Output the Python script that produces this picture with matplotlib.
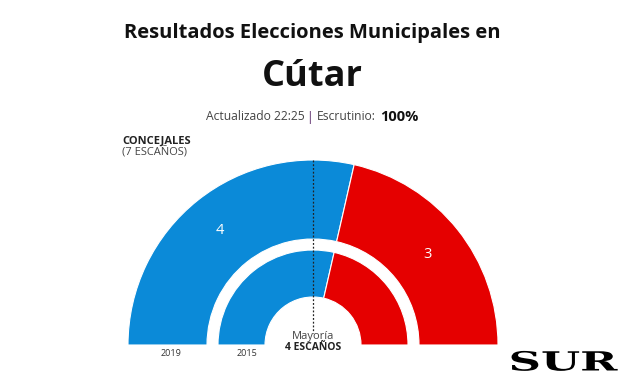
import matplotlib.pyplot as plt
from matplotlib.patches import Wedge
from matplotlib.patheffects import AbstractPathEffect
from matplotlib.transforms import Affine2D

# datos
parties = ['PP', 'PSOE']
colors = ['#0b8ad8', '#e50000']
seats_2019 = [4, 3]
seats_2015 = [4, 3]
years = ['2019', '2015']
total_seats = 7
majority = 4


class StretchX(AbstractPathEffect):
    # estira el texto en horizontal alrededor de un punto (en pixeles)
    def __init__(self, sx, x0):
        super().__init__()
        self.sx = sx
        self.x0 = x0

    def draw_path(self, renderer, gc, tpath, affine, rgbFace=None):
        t = Affine2D().translate(-self.x0, 0).scale(self.sx, 1).translate(self.x0, 0)
        renderer.draw_path(gc, tpath, affine + t, rgbFace)


W, H = 624, 385
fig = plt.figure(figsize=(W / 100, H / 100), dpi=100)
ax = fig.add_axes([0, 0, 1, 1])
ax.set_xlim(0, W)
ax.set_ylim(0, H)
ax.axis('off')

cx, cy = 313, H - 345
rings = [(seats_2019, 185, 106), (seats_2015, 95, 48)]

for seats, r_out, r_in in rings:
    start = 180.0
    for s, c in zip(seats, colors):
        span = 180.0 * s / total_seats
        ax.add_patch(Wedge((cx, cy), r_out, start - span, start, width=r_out - r_in,
                           facecolor=c, edgecolor='white', linewidth=0.8))
        start -= span

# numeros dentro del anillo exterior
ax.text(220, H - 231, str(seats_2019[0]), color='white', fontsize=10.5,
        ha='center', va='center', family='Open Sans')
ax.text(428, H - 254, str(seats_2019[1]), color='white', fontsize=10.5,
        ha='center', va='center', family='Open Sans')

# linea de mayoria
ax.plot([cx, cx], [H - 160, H - 333], color='#222222', lw=0.9, ls=(0, (1.5, 1.5)))

ax.text(cx, H - 336, 'Mayoría', fontsize=8, color='#444444', ha='center', va='center',
        family='Open Sans')
ax.text(cx, H - 348, f'{majority} ESCAÑOS', fontsize=7.5, color='#222222', ha='center',
        va='center', family='Open Sans', fontweight='bold')

ax.text(171, H - 354, years[0], fontsize=6.5, color='#333333', ha='center', va='center',
        family='Open Sans')
ax.text(247, H - 354, years[1], fontsize=6.5, color='#333333', ha='center', va='center',
        family='Open Sans')

# titulos
ax.text(312, H - 33, 'Resultados Elecciones Municipales en', fontsize=14.5,
        fontweight='bold', ha='center', va='center', family='Open Sans', color='#111111')
ax.text(312, H - 77, 'Cútar', fontsize=26, fontweight='bold', ha='center', va='center',
        family='Open Sans', color='#111111')
ax.text(305, H - 117, 'Actualizado 22:25', fontsize=8.7, ha='right', va='center',
        family='Open Sans', color='#444444')
ax.text(309.5, H - 117, '|', fontsize=8.7, ha='center', va='center',
        family='Open Sans', color='#5a2a6a')
ax.text(317, H - 117, 'Escrutinio:', fontsize=8.7, ha='left', va='center',
        family='Open Sans', color='#444444')
ax.text(380, H - 117, '100%', fontsize=10.5, fontweight='bold', ha='left', va='center',
        family='Open Sans', color='#111111')

ax.text(122, H - 141, 'CONCEJALES', fontsize=8, fontweight='bold', ha='left', va='center',
        family='Open Sans', color='#222222')
ax.text(122, H - 153, '(7 ESCAÑOS)', fontsize=8, ha='left', va='center',
        family='Open Sans', color='#444444')

ax.text(563, H - 363, 'SUR', fontsize=19, fontweight='bold', ha='center', va='center',
        family='DejaVu Serif', color='black', path_effects=[StretchX(1.7, 563)])

fig.savefig('out.png', dpi=100)
